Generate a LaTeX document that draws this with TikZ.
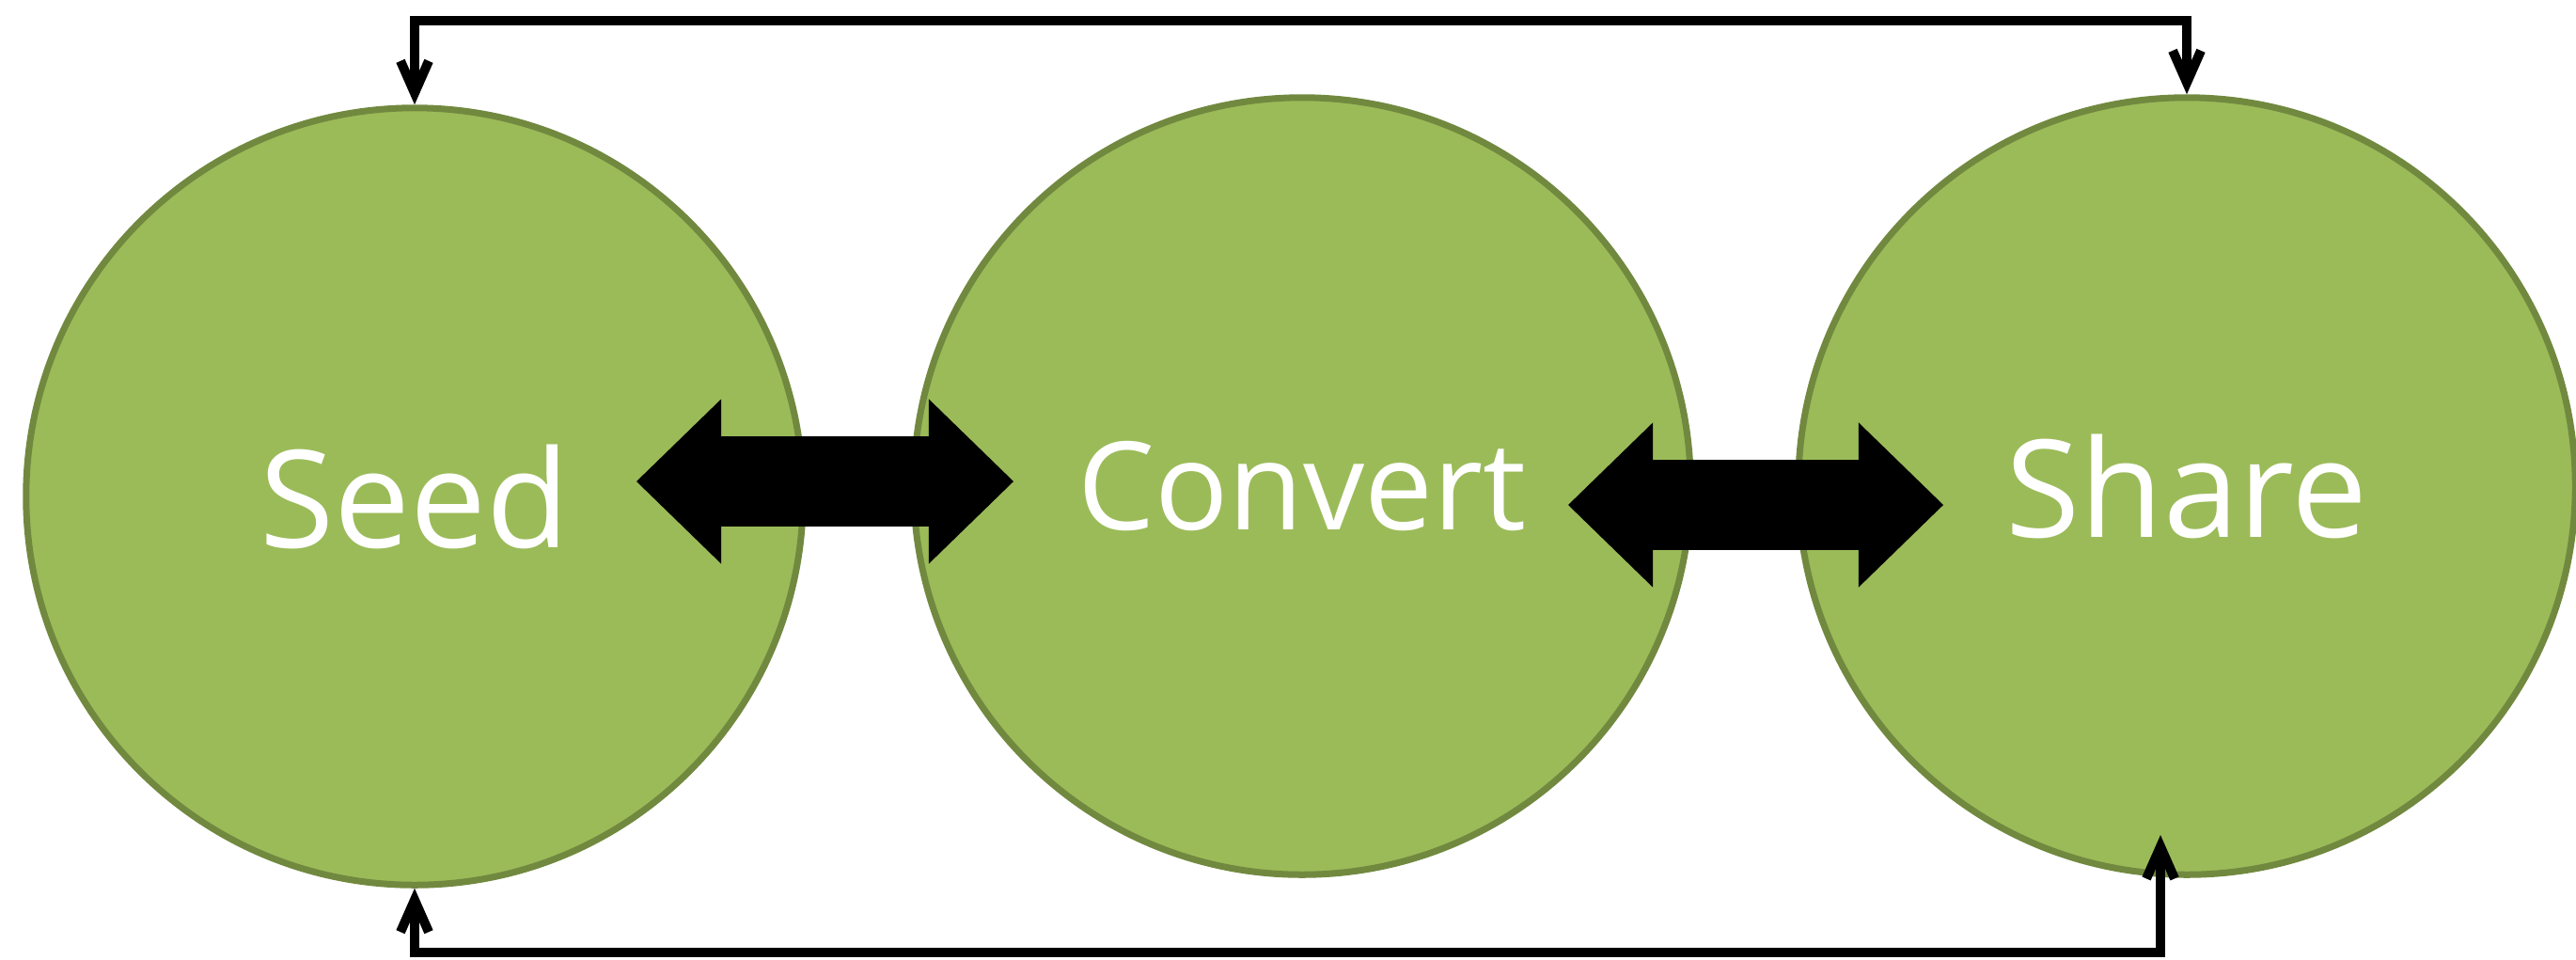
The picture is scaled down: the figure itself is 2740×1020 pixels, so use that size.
\documentclass[tikz,border=0pt]{standalone}
\usepackage{fontspec}
\setmainfont{Open Sans}
\usetikzlibrary{arrows.meta,calc}
\definecolor{leaffill}{HTML}{9BBB59}
\definecolor{leafedge}{HTML}{71893F}
\tikzset{
  stage/.style={circle, draw=leafedge, fill=leaffill, line width=0.07cm,
    minimum size=8.26cm, inner sep=0pt, text=white},
  bigfont/.style={font=\fontsize{41}{49}\selectfont},
  midfont/.style={font=\fontsize{37}{44}\selectfont},
  pushpull/.style={line width=0.95cm,
    {Triangle[length=0.9cm,width=1.75cm,line width=0pt]}-{Triangle[length=0.9cm,width=1.75cm,line width=0pt]}},
  loopback/.style={line width=0.1cm,
    {Straight Barb[length=0.34cm,width=0.3cm]}-{Straight Barb[length=0.34cm,width=0.3cm]}},
}
\begin{document}
\begin{tikzpicture}[x=0.01cm, y=-0.01cm]
\useasboundingbox (0,0) rectangle (2740,1020);
\node[stage, bigfont] (seed) at (441,528) {Seed};
\node[stage, midfont] (convert) at (1385,517) {Convert};
\node[stage, bigfont] (share) at (2326,517) {Share};
% two-way block arrows
\coordinate (sc1) at (677,512);
\coordinate (sc2) at (1078,512);
\coordinate (cs1) at (1668,537);
\coordinate (cs2) at (2067,537);
\draw[pushpull] (sc1) -- (sc2);
\draw[pushpull] (cs1) -- (cs2);
% feedback lines over the top and under the bottom
\coordinate (topbar) at (1380,22);
\coordinate (botbar) at (1380,1013);
\coordinate (sharein) at (2298,888);
\draw[loopback] (seed.north) |- (topbar) -| (share.north);
\draw[loopback] (seed.south) |- (botbar) -| (sharein);
\end{tikzpicture}
\end{document}
